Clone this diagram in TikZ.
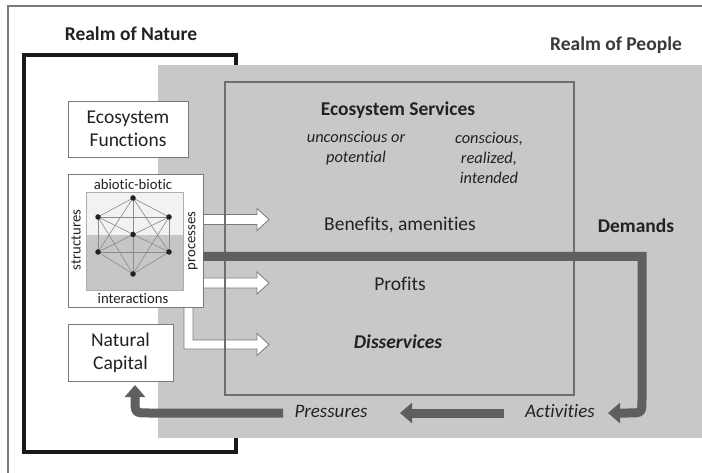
\documentclass[tikz,border=0pt]{standalone}
\usepackage{fontspec}
\setmainfont{Carlito}[Ligatures={NoCommon,NoContextual}]
\usetikzlibrary{arrows.meta}
\definecolor{txt}{HTML}{222222}
\definecolor{realm}{HTML}{C8C8C8}
\definecolor{esline}{HTML}{6E6E6E}
\definecolor{darkarr}{HTML}{5F5F5F}
\definecolor{thinline}{HTML}{7A7A7A}
\definecolor{netline}{HTML}{8A8A8A}
\definecolor{netfill}{HTML}{C6C6C6}
\definecolor{nettop}{HTML}{F2F2F2}
\begin{document}
\begin{tikzpicture}[x=1pt,y=-1pt,
  big/.style={font=\fontsize{19.5}{23}\selectfont, text=txt, inner sep=0pt, align=center},
  bigb/.style={font=\fontsize{19.5}{23}\selectfont\bfseries, text=txt, inner sep=0pt, align=center},
  ital/.style={font=\fontsize{16.4}{20}\selectfont\itshape, text=txt, inner sep=0pt, align=center},
  small/.style={font=\fontsize{14.7}{17}\selectfont, text=txt, inner sep=0pt},
  whitebox/.style={draw=thinline, line width=0.9pt, fill=white},
  darkflow/.style={draw=darkarr, line width=9pt, line join=miter, -{Triangle[width=20pt,length=12pt]}},
  whitearrow/.style={draw=thinline, line width=0.8pt, fill=white, line join=miter},
  netdot/.style={circle, fill=txt, inner sep=0pt, minimum size=5.5pt},
  netedge/.style={draw=netline, line width=0.6pt},
]
\useasboundingbox (0,0) rectangle (702,473);
\fill[white] (0,0) rectangle (702,473);
% outer frame
\draw[thinline, line width=1.2pt] (8,473) -- (8,6) -- (702,6);
% realm of nature box
\draw[black!90, line width=4pt] (24,55) rectangle (236,452);
% realm of people region
\fill[realm] (158,65) rectangle (702,438);
\node[bigb] (rn) at (131,34) {Realm of Nature};
\node[bigb, text=black!78] (rp) at (616,45) {Realm of People};

% white arrows
\draw[whitearrow] (203,214.5) -- (257,214.5) -- (257,208.5) -- (269,219.5) -- (257,230.5) -- (257,224.5) -- (203,224.5);
\draw[whitearrow] (203,278) -- (257,278) -- (257,272) -- (269,283) -- (257,294) -- (257,288) -- (203,288);
\draw[whitearrow] (184,307) -- (184,349) -- (257,349) -- (257,355.5) -- (269,344.5) -- (257,333.5) -- (257,340) -- (193,340) -- (193,307);

% ecosystem services box
\node[draw=esline, line width=2pt, minimum width=349pt, minimum height=313pt, inner sep=0pt] (es) at (399.5,238.5) {};
\node[bigb] (est) at (398,110) {Ecosystem Services};
\node[ital] (unc) at (356,148) {unconscious or\\potential};
\node[ital] (con) at (489,158) {conscious,\\realized,\\intended};
\node[big] (ben) at (400,225) {Benefits, amenities};
\node[big] (pro) at (400,284) {Profits};
\node[big, font=\fontsize{19.5}{23}\selectfont\bfseries\itshape] (dis) at (398,342) {Disservices};
\node[bigb] (dem) at (636,226) {Demands};
\node[ital, font=\fontsize{19}{23}\selectfont\itshape] (act) at (560,411) {Activities};
\node[ital, font=\fontsize{19}{23}\selectfont\itshape] (prs) at (331,411) {Pressures};

% left boxes
\node[whitebox, big, minimum width=120pt, minimum height=56pt] (ef) at (128,129) {Ecosystem\\Functions};
\node[whitebox, minimum width=135pt, minimum height=133pt, inner sep=0pt] (net) at (135.5,240.5) {};
\node[whitebox, big, minimum width=105pt, minimum height=57pt] (nc) at (120.5,352.5) {Natural\\Capital};

% network inner square
\fill[nettop] (86,192) rectangle (183,235);
\fill[netfill] (86,235) rectangle (183,290);
\draw[netline!70, line width=0.5pt] (86,192) rectangle (183,290);
\node[small] (ab) at (133,184) {abiotic-biotic};
\node[small] (int) at (133,298.5) {interactions};
\node[small, rotate=90] (str) at (76,240) {structures};
\node[small, rotate=90] (prc) at (193,241) {processes};
\coordinate (h1) at (133,198);
\coordinate (h2) at (169,217);
\coordinate (h3) at (169,252);
\coordinate (h4) at (133,274);
\coordinate (h5) at (98,252);
\coordinate (h6) at (98,217);
\foreach \a/\b in {h1/h2,h1/h3,h1/h4,h1/h5,h1/h6,h2/h3,h2/h4,h2/h5,h2/h6,h3/h4,h3/h5,h3/h6,h4/h5,h4/h6,h5/h6}
  \draw[netedge] (\a) -- (\b);
\foreach \p in {h1,h2,h3,h4,h5,h6}
  \node[netdot] at (\p) {};
\node[netdot] (hc) at (133,234.5) {};

% dark flow arrows
\coordinate (d1) at (642,256.5);
\coordinate (d2) at (642,399);
\coordinate (t1) at (608,413);
\coordinate (p1) at (504,413);
\coordinate (p2) at (400,413);
\coordinate (q1) at (283,413);
\coordinate (q2) at (135,399);
\coordinate (t3) at (135,385);
\draw[darkflow] (net.east |- d1) -- (d1) -- (d2) .. controls (642,413) .. (628,413) -- (t1);
\draw[darkflow] (p1) -- (p2);
\draw[darkflow] (q1) -- (149,413) .. controls (135,413) .. (q2) -- (t3);
\end{tikzpicture}
\end{document}
